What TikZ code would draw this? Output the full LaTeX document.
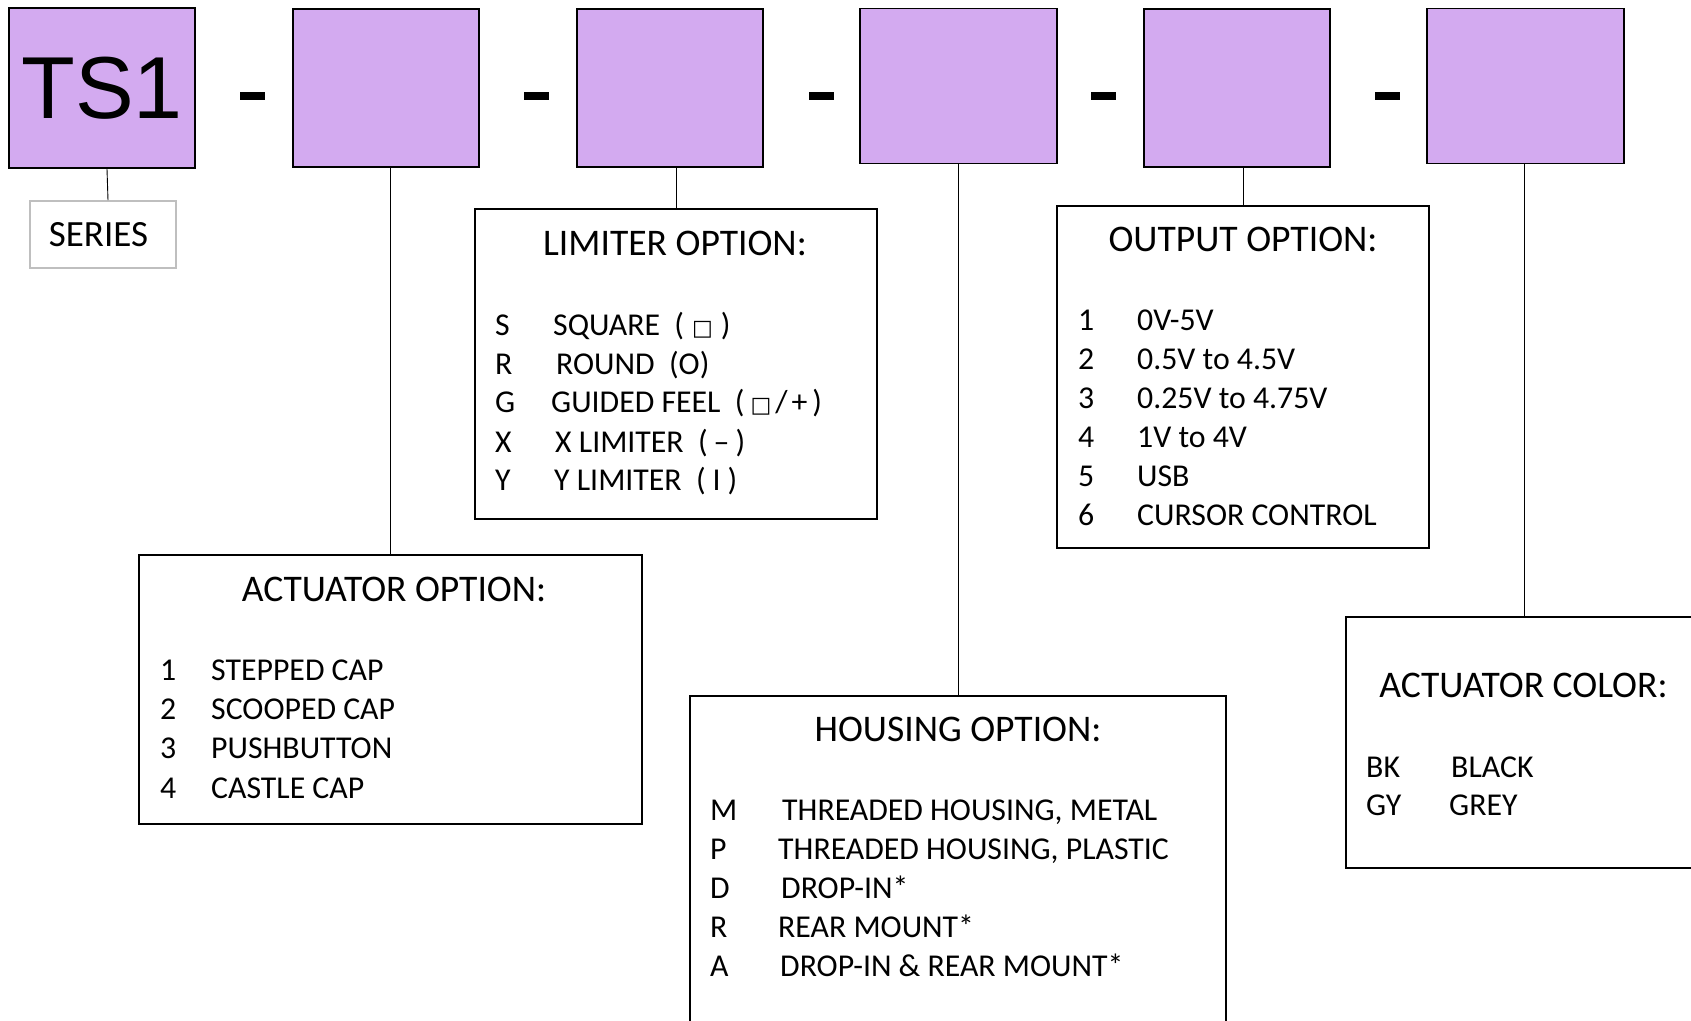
\documentclass[tikz,border=0pt]{standalone}
\usepackage{fontspec}
\setmainfont{Carlito}
\newfontfamily\arialfont{Liberation Sans}
\newfontfamily\symfont{DejaVu Sans}
\usetikzlibrary{positioning}
\definecolor{keypurple}{RGB}{211,170,240}
\definecolor{seriesgray}{RGB}{191,191,191}
\newcommand{\sqsym}{{\symfont\fontsize{22}{22}\selectfont □}}

\begin{document}
\begin{tikzpicture}[
  x=1pt,
  y=-1pt,
  keybox/.style={draw, line width=1.6pt, fill=keypurple, inner sep=0pt},
  optbox/.style={draw, line width=1.6pt, fill=white, inner sep=0pt},
  sepbar/.style={fill=black, inner sep=0pt, minimum width=25pt, minimum height=8pt},
  title/.style={anchor=base, inner sep=0pt, font=\fontsize{37.6}{44}\selectfont},
  item/.style={anchor=base west, inner sep=0pt, font=\fontsize{31.8}{39}\selectfont},
  link/.style={line width=0.9pt}
  ]
    \useasboundingbox (0,0) rectangle (1691,1020);

    % part number boxes
    \node[keybox, minimum width=186pt, minimum height=160pt, font=\arialfont\fontsize{88}{90}\selectfont] (ts) at (102,88) {TS1};
    \node[keybox, minimum width=186pt, minimum height=158pt] (keyb) at (386,88) {};
    \node[keybox, minimum width=186pt, minimum height=158pt] (keyc) at (670,88) {};
    \node[keybox, minimum width=197pt, minimum height=155pt] (keyd) at (958.5,86) {};
    \node[keybox, minimum width=186pt, minimum height=158pt] (keye) at (1237,88) {};
    \node[keybox, minimum width=197pt, minimum height=155pt] (keyf) at (1525.5,86) {};

    % separators
    \node[sepbar] (sepa) at (252,95.5) {};
    \node[sepbar] (sepb) at (536,95.5) {};
    \node[sepbar] (sepc) at (821,95.5) {};
    \node[sepbar] (sepd) at (1103,95.5) {};
    \node[sepbar] (sepe) at (1387,95.5) {};

    % series
    \node[draw=seriesgray, line width=1.6pt, minimum width=146pt, minimum height=67pt, inner sep=0pt,
      font=\fontsize{37}{40}\selectfont] (series) at (103,234.5) {SERIES\kern9pt};
    \draw[link] ([xshift=5pt]ts.south) -- ([xshift=5pt]series.north);

    %%%%%%%%%% option boxes
    \node[optbox, minimum width=503pt, minimum height=269pt] (act) at (390.5,689.5) {};
    \node[optbox, minimum width=402pt, minimum height=310pt] (lim) at (676,364) {};
    \node[optbox, minimum width=536pt, minimum height=344pt] (hous) at (958,868) {};
    \node[optbox, minimum width=372pt, minimum height=342pt] (outp) at (1243,377) {};
    \node[optbox, minimum width=356pt, minimum height=251pt] (col) at (1524,742.5) {};

    % connectors
    \draw[link] (act.north |- keyb.south) -- (act.north);
    \draw[link] (lim.north |- keyc.south) -- (lim.north);
    \draw[link] (hous.north |- keyd.south) -- (hous.north);
    \draw[link] (outp.north |- keye.south) -- (outp.north);
    \draw[link] (col.north |- keyf.south) -- (col.north);

    % actuator option
    \node[title] (acttitle) at (394,601) {ACTUATOR OPTION:};
    \node[item] (act1k) at (160,680) {1};
    \node[item] (act1v) at (211,680) {STEPPED CAP};
    \node[item] (act2k) at (160,719) {2};
    \node[item] (act2v) at (211,719) {SCOOPED CAP};
    \node[item] (act3k) at (160,758) {3};
    \node[item] (act3v) at (211,758) {PUSHBUTTON};
    \node[item] (act4k) at (160,798) {4};
    \node[item] (act4v) at (211,798) {CASTLE CAP};

    % limiter option
    \node[title] (limtitle) at (675,255) {LIMITER OPTION:};
    \node[item] (lim1k) at (495,335) {S};
    \node[item] (lim1v) at (553,335) {SQUARE\ \ (\hspace{8pt}\sqsym\hspace{8pt})};
    \node[item] (lim2k) at (495,374) {R};
    \node[item] (lim2v) at (556,374) {ROUND\ \ (O)};
    \node[item] (lim3k) at (495,412) {G};
    \node[item] (lim3v) at (551,412) {GUIDED FEEL\ \ (\hspace{6pt}\sqsym\hspace{4pt}/\hspace{4pt}+\hspace{5pt})};
    \node[item] (lim4k) at (495,452) {X};
    \node[item] (lim4v) at (555,452) {X LIMITER\ \ (\hspace{6pt}–\hspace{6pt})};
    \node[item] (lim5k) at (495,490) {Y};
    \node[item] (lim5v) at (554,490) {Y LIMITER\ \ (\hspace{7pt}I\hspace{7pt})};

    % housing option
    \node[title] (houstitle) at (958,741) {HOUSING OPTION:};
    \node[item] (hous1k) at (710,820) {M};
    \node[item] (hous1v) at (782,820) {THREADED HOUSING, METAL};
    \node[item] (hous2k) at (710,859) {P};
    \node[item] (hous2v) at (778,859) {THREADED HOUSING, PLASTIC};
    \node[item] (hous3k) at (710,898) {D};
    \node[item] (hous3v) at (781,898) {DROP-IN*};
    \node[item] (hous4k) at (710,937) {R};
    \node[item] (hous4v) at (778,937) {REAR MOUNT*};
    \node[item] (hous5k) at (710,976) {A};
    \node[item] (hous5v) at (780,976) {DROP-IN \& REAR MOUNT*};

    % output option
    \node[title] (outtitle) at (1243,251) {OUTPUT OPTION:};
    \node[item] (out1k) at (1078,330) {1};
    \node[item] (out1v) at (1137,330) {0V-5V};
    \node[item] (out2k) at (1078,369) {2};
    \node[item] (out2v) at (1137,369) {0.5V to 4.5V};
    \node[item] (out3k) at (1078,408) {3};
    \node[item] (out3v) at (1137,408) {0.25V to 4.75V};
    \node[item] (out4k) at (1078,447) {4};
    \node[item] (out4v) at (1137,447) {1V to 4V};
    \node[item] (out5k) at (1078,486) {5};
    \node[item] (out5v) at (1137,486) {USB};
    \node[item] (out6k) at (1078,525) {6};
    \node[item] (out6v) at (1137,525) {CURSOR CONTROL};

    % actuator color
    \node[title] (coltitle) at (1523.5,697) {ACTUATOR COLOR:};
    \node[item] (col1k) at (1366,777) {BK};
    \node[item] (col1v) at (1451,777) {BLACK};
    \node[item] (col2k) at (1366,815) {GY};
    \node[item] (col2v) at (1449,815) {GREY};

\end{tikzpicture}
\end{document}
